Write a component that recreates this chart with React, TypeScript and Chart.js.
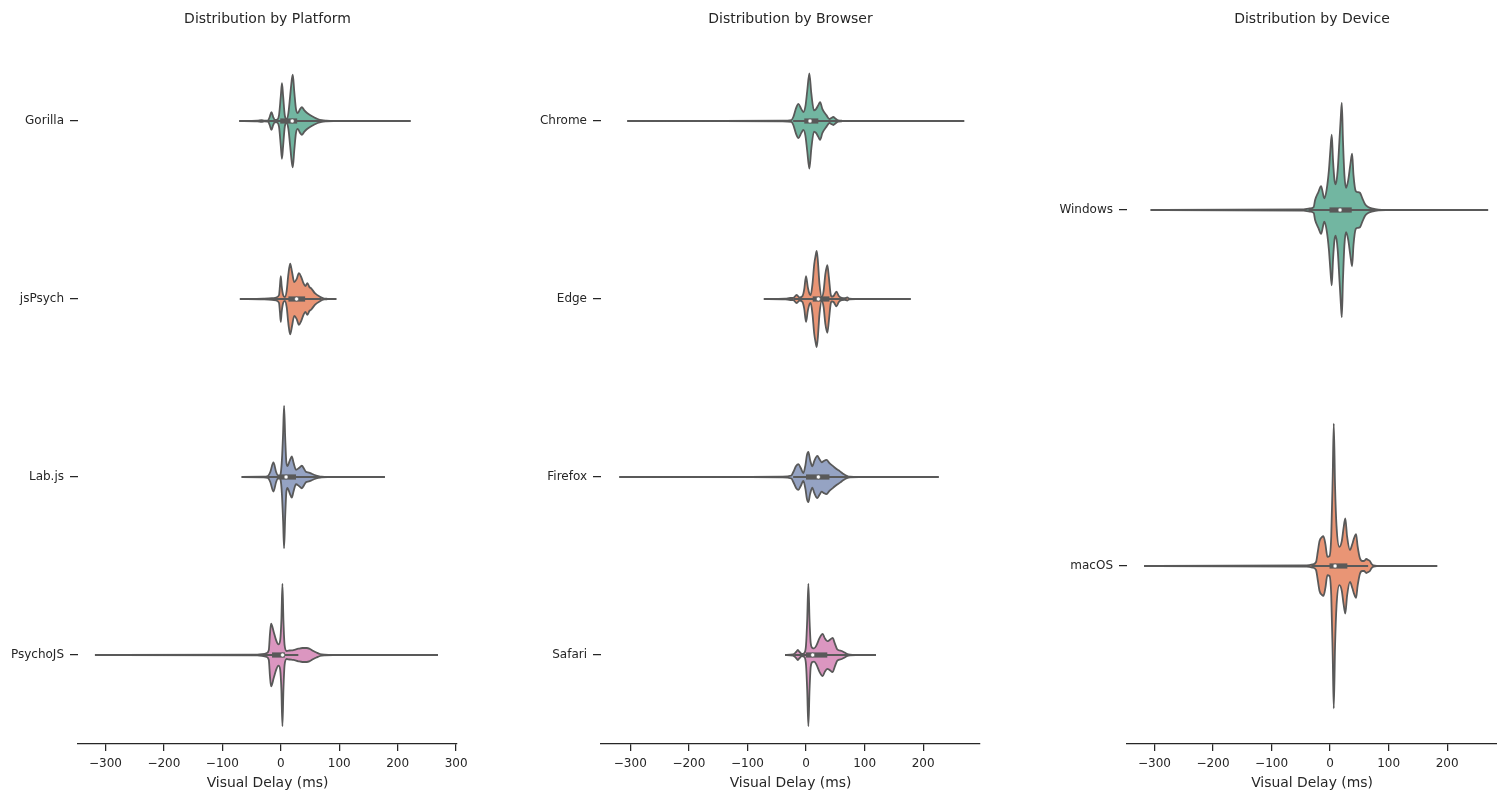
import React, { useEffect, useRef } from 'react';
import { Chart, registerables } from 'chart.js';

Chart.register(...registerables);

// ---------- categories ----------
const platformCategories = ['Gorilla', 'jsPsych', 'Lab.js', 'PsychoJS'];
const browserCategories = ['Chrome', 'Edge', 'Firefox', 'Safari'];
const deviceCategories = ['Windows', 'macOS'];

// ---------- x ticks ----------
const platformTicks = [-300, -200, -100, 0, 100, 200, 300];
const browserTicks = [-300, -200, -100, 0, 100, 200];
const deviceTicks = [-300, -200, -100, 0, 100, 200];

// ---------- violin density profiles (delay in ms, relative density 0..1) ----------
const gorillaDelay = [-71, -40, -33, -28, -22, -19, -16, -13, -10, -6, -3, 0, 2, 4, 7, 10, 13, 16, 18.5, 20.5, 23, 26, 29, 33, 36, 40, 45, 50, 56, 63, 70, 78, 90, 222];
const gorillaDensity = [0, 0.004, 0.011, 0.004, 0.007, 0.056, 0.126, 0.056, 0.014, 0.021, 0.084, 0.349, 0.53, 0.349, 0.07, 0.028, 0.112, 0.349, 0.558, 0.651, 0.418, 0.167, 0.112, 0.167, 0.195, 0.153, 0.112, 0.084, 0.056, 0.028, 0.011, 0.004, 0, 0];

const jspsychDelay = [-70, -30, -15, -8, -3, -1.5, 0, 1.5, 4, 7, 10, 13, 16, 19, 23, 27, 31, 35, 39, 42, 45.5, 49, 52, 58.7, 67, 74, 80, 95];
const jspsychDensity = [0, 0.004, 0.011, 0.021, 0.056, 0.18, 0.321, 0.18, 0.056, 0.028, 0.112, 0.349, 0.498, 0.39, 0.237, 0.279, 0.363, 0.307, 0.219, 0.181, 0.223, 0.167, 0.149, 0.079, 0.032, 0.007, 0.003, 0];

const labjsDelay = [-67, -30, -22, -18, -12.6, -8, -5, -2, 0, 2, 4, 5.6, 7.5, 9.5, 11.5, 15, 18.8, 22, 26, 31, 36, 40, 43, 48, 53, 58, 64, 70, 80, 178];
const labjsDensity = [0, 0.004, 0.014, 0.07, 0.205, 0.07, 0.021, 0.021, 0.056, 0.251, 0.628, 1.0, 0.558, 0.209, 0.153, 0.223, 0.289, 0.195, 0.102, 0.126, 0.158, 0.112, 0.074, 0.063, 0.046, 0.028, 0.014, 0.004, 0, 0];

const psychojsDelay = [-318, -40, -32, -24, -20.5, -18.5, -16.6, -12, -8, -4, -1, 1, 2.8, 4.5, 6.5, 10, 15, 21.6, 30, 37, 44.5, 50, 55.8, 61, 67, 75, 90, 269];
const psychojsDensity = [0, 0.004, 0.011, 0.028, 0.07, 0.3, 0.442, 0.321, 0.209, 0.149, 0.209, 0.488, 1.0, 0.488, 0.139, 0.056, 0.063, 0.07, 0.088, 0.098, 0.098, 0.084, 0.056, 0.035, 0.014, 0.004, 0, 0];

const chromeDelay = [-305, -40, -25, -21.7, -17, -13, -8, -4.5, -1, 2, 5.7, 9, 13.6, 17, 21, 24, 28, 35, 40, 43, 46.6, 50, 55, 62, 80, 270];
const chromeDensity = [0, 0.004, 0.014, 0.056, 0.181, 0.241, 0.167, 0.126, 0.209, 0.418, 0.669, 0.39, 0.149, 0.167, 0.223, 0.265, 0.167, 0.079, 0.028, 0.042, 0.056, 0.035, 0.007, 0.003, 0, 0];

const edgeDelay = [-72, -35, -27, -22, -16, -11, -6, -3, 0, 3, 6, 8, 11, 14, 16.5, 18.2, 20, 23, 26.8, 30, 33, 36.4, 39, 42, 44, 47, 52, 56, 61, 66, 70.5, 74, 85, 178.6];
const edgeDensity = [0, 0.004, 0.014, 0.014, 0.056, 0.021, 0.042, 0.139, 0.321, 0.167, 0.07, 0.056, 0.209, 0.488, 0.614, 0.674, 0.558, 0.209, 0.028, 0.112, 0.349, 0.474, 0.307, 0.07, 0.032, 0.042, 0.102, 0.042, 0.014, 0.011, 0.021, 0.004, 0, 0];

const firefoxDelay = [-318.6, -40, -25, -21.7, -17, -13, -9, -4.6, -1, 1.5, 4, 7, 10.8, 14, 19.3, 23, 26.8, 30, 35, 40, 46.6, 52, 58, 64, 69.4, 75, 90, 226.4];
const firefoxDensity = [0, 0.004, 0.021, 0.07, 0.153, 0.181, 0.126, 0.056, 0.167, 0.307, 0.353, 0.237, 0.149, 0.223, 0.297, 0.251, 0.205, 0.223, 0.241, 0.195, 0.149, 0.112, 0.079, 0.042, 0.018, 0.004, 0, 0];

const safariDelay = [-35.8, -22, -17, -14, -11, -7, -3, 0, 2, 4, 6, 8, 11, 13.7, 18, 23, 28.4, 32, 36.3, 40, 45.5, 49, 53.4, 61, 66, 69.4, 75, 85, 119.5];
const safariDensity = [0, 0.007, 0.042, 0.07, 0.042, 0.014, 0.028, 0.139, 0.488, 1.0, 0.488, 0.167, 0.098, 0.093, 0.139, 0.237, 0.297, 0.237, 0.195, 0.209, 0.241, 0.167, 0.079, 0.056, 0.035, 0.018, 0.004, 0, 0];

const windowsDelay = [-306.6, -45, -35, -28, -25.6, -20, -15.4, -12, -10, -6, -2, 0.5, 2.8, 5, 7.5, 9.7, 13, 16, 18.5, 20, 22, 24.5, 27.3, 31, 34.5, 37.6, 40, 43.8, 47, 51, 55, 59.8, 65, 71, 82.6, 95, 270];
const windowsDensity = [0, 0.004, 0.011, 0.021, 0.07, 0.126, 0.168, 0.112, 0.082, 0.14, 0.28, 0.42, 0.53, 0.35, 0.21, 0.18, 0.28, 0.49, 0.666, 0.752, 0.49, 0.245, 0.156, 0.21, 0.315, 0.395, 0.245, 0.133, 0.126, 0.121, 0.084, 0.04, 0.021, 0.012, 0.002, 0, 0];

const macosDelay = [-317.7, -40, -30, -24, -21, -18, -14, -11.4, -8, -4.6, -1, 2, 4.5, 6.3, 8.5, 11, 16, 20, 23, 26, 29, 34, 38, 41, 44.4, 47, 51, 55, 58, 62, 65.4, 68, 71, 74, 80, 183];
const macosDensity = [0, 0.004, 0.011, 0.028, 0.1, 0.175, 0.203, 0.21, 0.154, 0.065, 0.07, 0.21, 0.63, 1.0, 0.56, 0.28, 0.135, 0.175, 0.266, 0.334, 0.21, 0.112, 0.154, 0.196, 0.224, 0.14, 0.054, 0.035, 0.035, 0.049, 0.042, 0.035, 0.014, 0.004, 0, 0];

// ---------- inner box statistics (ms) ----------
const platformQ1 = [-1, 13, -1, -15];
const platformMedian = [19.5, 27, 9, 3];
const platformQ3 = [28, 41.6, 26, 7];
const platformWhiskerLow = [-32, -22, -22, -33];
const platformWhiskerHigh = [70, 70, 64, 30];

const browserQ1 = [-3, 11.4, 0, 0];
const browserMedian = [6.8, 21, 21, 11.4];
const browserQ3 = [21, 40, 40, 36.3];
const browserWhiskerLow = [-22, -21, -22, -20];
const browserWhiskerHigh = [55, 69, 75, 75];

const deviceQ1 = [-1, -1];
const deviceMedian = [17, 8.5];
const deviceQ3 = [37, 29.5];
const deviceWhiskerLow = [-37, -32];
const deviceWhiskerHigh = [80, 65];

// ---------- styling ----------
const COLORS = ['#72b6a1', '#e99575', '#95a3c3', '#db96c0'];
const GRAY = '#595959';
const TEXT = '#262626';
const FONT = "'DejaVu Sans', sans-serif";

type Violin = { x: number[]; d: number[] };

type PanelCfg = {
  title: string;
  categories: string[];
  violins: Violin[];
  q1: number[];
  med: number[];
  q3: number[];
  wlo: number[];
  whi: number[];
  ticks: number[];
  xMin: number;
  xMax: number;
  left: number;
  width: number;
  yAxisWidth: number;
  padRight: number;
};

const panels: PanelCfg[] = [
  {
    title: 'Distribution by Platform',
    categories: platformCategories,
    violins: [
      { x: gorillaDelay, d: gorillaDensity },
      { x: jspsychDelay, d: jspsychDensity },
      { x: labjsDelay, d: labjsDensity },
      { x: psychojsDelay, d: psychojsDensity },
    ],
    q1: platformQ1, med: platformMedian, q3: platformQ3, wlo: platformWhiskerLow, whi: platformWhiskerHigh,
    ticks: platformTicks, xMin: -347, xMax: 301.5,
    left: 0, width: 477, yAxisWidth: 78, padRight: 20,
  },
  {
    title: 'Distribution by Browser',
    categories: browserCategories,
    violins: [
      { x: chromeDelay, d: chromeDensity },
      { x: edgeDelay, d: edgeDensity },
      { x: firefoxDelay, d: firefoxDensity },
      { x: safariDelay, d: safariDensity },
    ],
    q1: browserQ1, med: browserMedian, q3: browserQ3, wlo: browserWhiskerLow, whi: browserWhiskerHigh,
    ticks: browserTicks, xMin: -350, xMax: 297,
    left: 490, width: 510, yAxisWidth: 111, padRight: 20,
  },
  {
    title: 'Distribution by Device',
    categories: deviceCategories,
    violins: [
      { x: windowsDelay, d: windowsDensity },
      { x: macosDelay, d: macosDensity },
    ],
    q1: deviceQ1, med: deviceMedian, q3: deviceQ3, wlo: deviceWhiskerLow, whi: deviceWhiskerHigh,
    ticks: deviceTicks, xMin: -347, xMax: 285.2,
    left: 1010, width: 510, yAxisWidth: 117, padRight: 23,
  },
];

const HEIGHT = 792;

function buildDatasets(p: PanelCfg) {
  const ds: any[] = [];
  const half = 0.4;
  p.violins.forEach((v, i) => {
    const common = {
      borderColor: GRAY,
      borderWidth: 1.8,
      pointRadius: 0,
      cubicInterpolationMode: 'monotone',
      borderJoinStyle: 'round',
      order: 5,
    };
    ds.push({ ...common, data: v.x.map((x, k) => ({ x, y: i - v.d[k] * half })), fill: '+1', backgroundColor: COLORS[i % COLORS.length] });
    ds.push({ ...common, data: v.x.map((x, k) => ({ x, y: i + v.d[k] * half })), fill: false });
  });
  p.violins.forEach((_, i) => {
    ds.push({
      data: [{ x: p.wlo[i], y: i }, { x: p.whi[i], y: i }],
      borderColor: GRAY, borderWidth: 1.8, pointRadius: 0, fill: false, order: 3,
    });
    ds.push({
      data: [{ x: p.q1[i], y: i }, { x: p.q3[i], y: i }],
      borderColor: GRAY, borderWidth: 5.2, borderCapStyle: 'butt', pointRadius: 0, fill: false, order: 2,
    });
    ds.push({
      data: [{ x: p.med[i], y: i }],
      showLine: false, pointRadius: 2, pointBackgroundColor: '#ffffff', pointBorderColor: GRAY, pointBorderWidth: 0.5, fill: false, order: 1,
    });
  });
  return ds;
}

function fmtTick(v: number) {
  return v < 0 ? '\u2212' + Math.abs(v) : String(v);
}

function Panel({ p }: { p: PanelCfg }) {
  const ref = useRef<HTMLCanvasElement | null>(null);
  useEffect(() => {
    if (!ref.current) return;
    const chart = new Chart(ref.current, {
      type: 'line',
      data: { datasets: buildDatasets(p) },
      options: {
        animation: false,
        responsive: false,
        maintainAspectRatio: false,
        events: [],
        layout: { padding: { left: 0, right: p.padRight, top: 0, bottom: 0 } },
        plugins: {
          legend: { display: false },
          tooltip: { enabled: false },
          filler: { drawTime: 'beforeDatasetsDraw' },
          title: {
            display: true,
            text: p.title,
            fullSize: false,
            color: TEXT,
            font: { family: FONT, size: 14, weight: 'normal' },
            padding: { top: 10.6, bottom: 4.6 },
          },
        },
        scales: {
          x: {
            type: 'linear',
            min: p.xMin,
            max: p.xMax,
            afterBuildTicks: (scale: any) => {
              scale.ticks = p.ticks.map((v) => ({ value: v }));
            },
            afterFit: (scale: any) => {
              scale.height = 48;
            },
            ticks: {
              callback: (v: any) => fmtTick(Number(v)),
              color: TEXT,
              font: { family: FONT, size: 12 },
              padding: 6,
              maxRotation: 0,
              autoSkip: false,
            },
            grid: { display: true, drawOnChartArea: false, drawTicks: true, tickLength: 7, color: TEXT, lineWidth: 1.25 },
            border: { display: true, color: TEXT, width: 1.25 },
            title: {
              display: true,
              text: 'Visual Delay (ms)',
              color: TEXT,
              font: { family: FONT, size: 13.9 },
              padding: { top: 0, bottom: 0 },
            },
          },
          y: {
            type: 'linear',
            min: -0.5,
            max: p.categories.length - 0.5,
            reverse: true,
            afterBuildTicks: (scale: any) => {
              scale.ticks = p.categories.map((_, i) => ({ value: i }));
            },
            afterFit: (scale: any) => {
              scale.width = p.yAxisWidth;
            },
            ticks: {
              callback: (v: any) => p.categories[Number(v)] ?? '',
              color: TEXT,
              font: { family: FONT, size: 12 },
              padding: 6,
              autoSkip: false,
            },
            grid: { display: true, drawOnChartArea: false, drawTicks: true, tickLength: 8, color: TEXT, lineWidth: 1.25 },
            border: { display: false },
          },
        },
      } as any,
    });
    return () => chart.destroy();
  }, [p]);
  return (
    <canvas
      ref={ref}
      width={p.width}
      height={HEIGHT}
      style={{ position: 'absolute', left: p.left, top: 0, width: p.width, height: HEIGHT }}
    />
  );
}

export default function App() {
  return (
    <div style={{ position: 'absolute', left: 0, top: 0, width: 1497, height: HEIGHT, overflow: 'hidden', background: '#ffffff' }}>
      {panels.map((p) => (
        <Panel key={p.title} p={p} />
      ))}
    </div>
  );
}
